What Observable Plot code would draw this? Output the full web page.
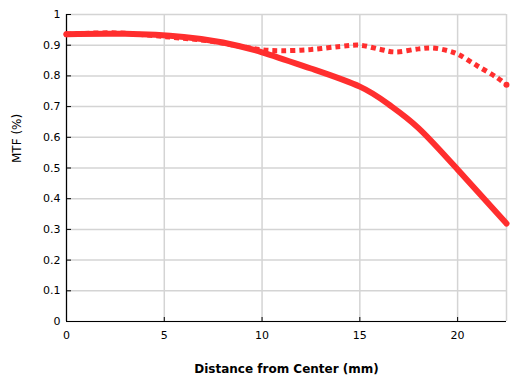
<!DOCTYPE html>
<html>
<head>
<meta charset="utf-8">
<script src="https://cdn.jsdelivr.net/npm/d3@7"></script>
<script src="https://cdn.jsdelivr.net/npm/@observablehq/plot@0.6"></script>
<style>
  html, body { margin: 0; padding: 0; background: #fff; }
  svg { display: block; }
</style>
</head>
<body>
<div id="chart"></div>
<script>
// Distance from center (mm) and MTF values
const solidX = [0, 3, 6, 8, 10, 12.5, 15, 16.5, 18, 20, 22.5];
const solidY = [0.936, 0.937, 0.927, 0.909, 0.877, 0.824, 0.765, 0.706, 0.630, 0.495, 0.319];
const dottedX = [0, 2.5, 5, 7.5, 9, 10, 11, 12.5, 14, 15, 16, 16.8, 18, 18.7, 19.5, 20, 21, 22, 22.5];
const dottedY = [0.936, 0.940, 0.928, 0.912, 0.895, 0.885, 0.882, 0.886, 0.896, 0.900, 0.887, 0.878, 0.888, 0.891, 0.882, 0.871, 0.833, 0.795, 0.771];
const xTicks = [0, 5, 10, 15, 20];
const yTicks = [0, 0.1, 0.2, 0.3, 0.4, 0.5, 0.6, 0.7, 0.8, 0.9, 1];
const xDomain = [0, 22.5];
const yDomain = [0, 1];
const xLabel = "Distance from Center (mm)";
const yLabel = "MTF (%)";

const solid = solidX.map((x, i) => ({x, y: solidY[i]}));
const dotted = dottedX.map((x, i) => ({x, y: dottedY[i]}));
const red = "#ff2e2e";
const gridColor = "#d4d4d4";

const chart = Plot.plot({
  width: 512,
  height: 384,
  marginLeft: 66,
  marginRight: 6,
  marginTop: 14,
  marginBottom: 63,
  style: {fontFamily: "'DejaVu Sans', sans-serif", fontSize: "11px", background: "#fff"},
  x: {domain: xDomain},
  y: {domain: yDomain},
  marks: [
    Plot.gridX(xTicks, {stroke: gridColor, strokeOpacity: 1, strokeWidth: 1.5}),
    Plot.gridY(yTicks, {stroke: gridColor, strokeOpacity: 1, strokeWidth: 1.5}),
    Plot.ruleX([xDomain[1]], {stroke: gridColor, strokeWidth: 1.5}),
    Plot.ruleX([xDomain[0]], {stroke: "#000", strokeWidth: 1.2}),
    Plot.ruleY([yDomain[0]], {stroke: "#000", strokeWidth: 1.2}),
    Plot.axisX({ticks: xTicks, tickSize: -4, tickPadding: 14, tickFormat: d => String(d), label: null, fill: "#000", stroke: "#000"}),
    Plot.axisY({ticks: yTicks, tickSize: -5, tickPadding: 11, tickFormat: d => String(+d.toFixed(1)), label: null, fill: "#000", stroke: "#000"}),
    Plot.line(dotted, {x: "x", y: "y", curve: "catmull-rom", stroke: red, strokeWidth: 5, strokeDasharray: "5,4", strokeLinecap: "butt", strokeLinejoin: "miter"}),
    Plot.dot([dotted[dotted.length - 1]], {x: "x", y: "y", r: 3, fill: red}),
    Plot.line(solid, {x: "x", y: "y", curve: "natural", stroke: red, strokeWidth: 6, strokeLinecap: "round", strokeLinejoin: "round"}),
    Plot.dot([dotted[0]], {x: "x", y: "y", r: 3, fill: red}),
    Plot.text([xLabel], {frameAnchor: "bottom", dy: 51, fontWeight: "bold", fontSize: 12, fill: "#000"}),
    Plot.text([yLabel], {frameAnchor: "left", dx: -49, dy: -5, rotate: -90, fontSize: 12, fill: "#000"})
  ]
});
document.getElementById("chart").appendChild(chart);
</script>
</body>
</html>
